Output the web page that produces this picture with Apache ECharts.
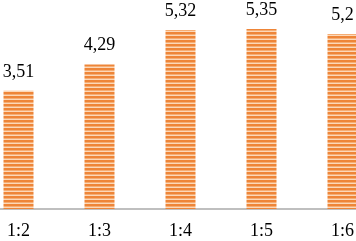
<!DOCTYPE html>
<html><head><meta charset="utf-8">
<script src="https://cdn.jsdelivr.net/npm/echarts@6/dist/echarts.min.js"></script>
<style>html,body{margin:0;padding:0;background:#fff;overflow:hidden}#w{width:356px;height:241px;overflow:hidden;position:relative}#c{position:absolute;left:-22.5px;top:0;width:405px;height:241px}</style>
</head><body><div id="w"><div id="c"></div></div>
<script>
const categories = ['1:2', '1:3', '1:4', '1:5', '1:6'];
const values = [3.51, 4.29, 5.32, 5.35, 5.2];
const labels = ['3,51', '4,29', '5,32', '5,35', '5,2'];

const pc = document.createElement('canvas');
pc.width = 4; pc.height = 4;
const ctx = pc.getContext('2d');
ctx.fillStyle = '#EE8538'; ctx.fillRect(0, 0, 4, 2);
ctx.fillStyle = '#F5AD74'; ctx.fillRect(0, 2, 4, 1);
ctx.fillStyle = '#FCD8B8'; ctx.fillRect(0, 3, 4, 1);

const serif = "'Liberation Serif', 'Times New Roman', 'DejaVu Serif', serif";
const chart = echarts.init(document.getElementById('c'), null, {renderer: 'canvas'});
chart.setOption({
  animation: false,
  grid: {left: 0, right: 0, top: 7, bottom: 32},
  xAxis: {
    type: 'category', data: categories,
    axisLine: {lineStyle: {color: '#BFBFBF', width: 2}},
    axisTick: {show: false},
    axisLabel: {color: '#000', fontFamily: serif, fontSize: 18, margin: 13}
  },
  yAxis: {type: 'value', min: 0, max: 6, show: false, splitLine: {show: false}},
  series: [{
    type: 'bar', data: values, barWidth: 30,
    itemStyle: {color: {image: pc, repeat: 'repeat'}},
    label: {
      show: true, position: 'top', distance: 10,
      color: '#000', fontFamily: serif, fontSize: 18,
      formatter: p => labels[p.dataIndex]
    }
  }]
});
</script></body></html>
